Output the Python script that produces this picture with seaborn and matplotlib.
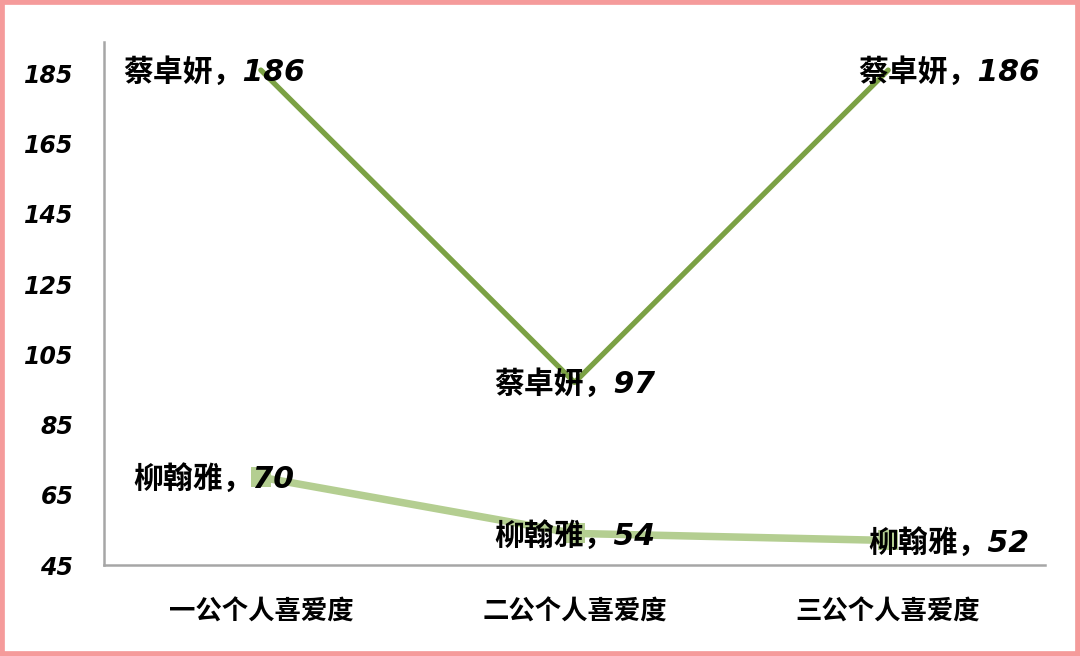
import matplotlib
matplotlib.use('Agg')
import matplotlib.pyplot as plt
from matplotlib.patches import Rectangle
import seaborn as sns
import pandas as pd

categories = ['一公个人喜爱度', '二公个人喜爱度', '三公个人喜爱度']
cai_values = [186, 97, 186]
liu_values = [70, 54, 52]
yticks = [45, 65, 85, 105, 125, 145, 165, 185]

sns.set_style('white')
plt.rcParams['font.family'] = ['Noto Sans CJK SC', 'DejaVu Sans']
plt.rcParams['axes.unicode_minus'] = False
plt.rcParams['text.color'] = 'black'
plt.rcParams['xtick.labelcolor'] = 'black'
plt.rcParams['ytick.labelcolor'] = 'black'
# digits in a wide italic face, CJK falls through to Noto
mixed = ['DejaVu Sans', 'Noto Sans CJK SC']

df = pd.DataFrame({
    'pos': [0, 1, 2] * 2,
    'value': cai_values + liu_values,
    'name': ['蔡卓妍'] * 3 + ['柳翰雅'] * 3,
})

fig = plt.figure(figsize=(10.8, 6.56), dpi=100)
ax = fig.add_axes([0.0963, 0.1387, 0.8713, 0.7973])

dark = '#7BA144'
light = '#B4CE91'

sns.lineplot(data=df[df['name'] == '柳翰雅'], x='pos', y='value', ax=ax,
             color=light, lw=5.4, marker='s', markersize=14,
             markeredgewidth=0, legend=False)
sns.lineplot(data=df[df['name'] == '蔡卓妍'], x='pos', y='value', ax=ax,
             color=dark, lw=3.8, legend=False)

# data labels
label_shift = [-47, 0, 61]
for i in range(3):
    ax.annotate(f'蔡卓妍，{cai_values[i]}', (i, cai_values[i]),
                xytext=(label_shift[i], -2), textcoords='offset pixels',
                ha='center', va='center', fontsize=21.5, fontweight='bold',
                style='italic', family=mixed, color='black', zorder=5)
    ax.annotate(f'柳翰雅，{liu_values[i]}', (i, liu_values[i]),
                xytext=(label_shift[i], -2), textcoords='offset pixels',
                ha='center', va='center', fontsize=21.5, fontweight='bold',
                style='italic', family=mixed, color='black', zorder=5)

ax.set_xlim(-0.5, 2.5)
ax.set_ylim(45, 194)
ax.set_yticks(yticks)
ax.set_yticklabels([str(t) for t in yticks], fontsize=17, fontweight='bold',
                   style='italic', family='DejaVu Sans', color='black')
ax.set_xticks([0, 1, 2])
ax.set_xticklabels(categories, fontsize=19, fontweight='bold', color='black')
ax.set_xticks([-0.5, 0.5, 1.5, 2.5], minor=True)
ax.tick_params(axis='x', which='major', length=0, pad=24)
ax.tick_params(axis='x', which='minor', length=7, color='#A6A6A6',
               width=1.5, direction='in')
ax.tick_params(axis='y', length=7, color='#A6A6A6', width=1.5, pad=15)
ax.set_xlabel('')
ax.set_ylabel('')

for side in ['top', 'right']:
    ax.spines[side].set_visible(False)
for side in ['left', 'bottom']:
    ax.spines[side].set_color('#A6A6A6')
    ax.spines[side].set_linewidth(1.8)

# pink frame around the picture
fig.patches.append(Rectangle((0, 0), 1, 1, transform=fig.transFigure,
                             fill=False, edgecolor='#F59B9B', lw=7,
                             zorder=10))

fig.savefig('out.png', dpi=100)
